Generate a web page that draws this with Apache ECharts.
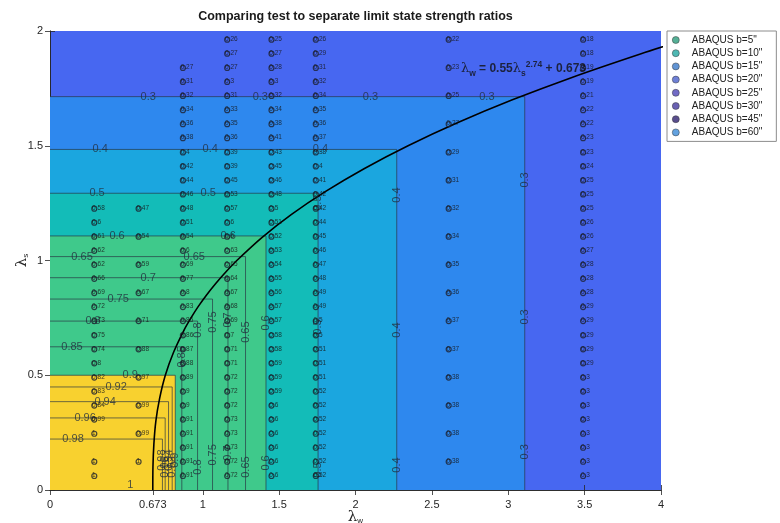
<!DOCTYPE html>
<html>
<head>
<meta charset="utf-8">
<script src="https://cdn.jsdelivr.net/npm/echarts@6/dist/echarts.min.js"></script>
<style>
html, body { margin: 0; padding: 0; background: #fff; }
#chart { width: 780px; height: 523px; }
</style>
</head>
<body>
<div id="chart"></div>
<script>
// ---- test points: one column per plate width b ----
const seriesNames = ['ABAQUS b=5"', 'ABAQUS b=10"', 'ABAQUS b=15"', 'ABAQUS b=20"',
                     'ABAQUS b=25"', 'ABAQUS b=30"', 'ABAQUS b=45"', 'ABAQUS b=60"'];
const seriesColors = ['#2a9c7c', '#22a6a0', '#3a79c9', '#4a60cc', '#4f46b8', '#45399f', '#2f2271', '#3b8bd8'];
const lambdaW = [0.29, 0.58, 0.87, 1.16, 1.45, 1.74, 2.61, 3.49];

// lambda_s rows, top to bottom
const lambdaS = [1.962, 1.901, 1.839, 1.778, 1.717, 1.655, 1.594, 1.533, 1.471, 1.410, 1.349, 1.288,
                 1.226, 1.165, 1.104, 1.042, 0.981, 0.920, 0.858, 0.797, 0.736, 0.674, 0.613, 0.552,
                 0.490, 0.429, 0.368, 0.307, 0.245, 0.184, 0.123, 0.061];

// strength ratios at each row (null = no specimen)
const ratioB5  = [null, null, null, null, null, null, null, null, null, null, null, null,
                  0.58, 0.6, 0.61, 0.62, 0.62, 0.66, 0.69, 0.72, 0.73, 0.75, 0.74, 0.8,
                  0.82, 0.83, 0.84, 0.99, 1, null, 1, 1];
const ratioB10 = [null, null, null, null, null, null, null, null, null, null, null, null,
                  0.47, null, 0.54, null, 0.59, null, 0.67, null, 0.71, null, 0.88, null,
                  0.97, null, 0.99, null, 0.99, null, 1, null];
const ratioB15 = [null, null, 0.27, 0.31, 0.32, 0.34, 0.36, 0.38, 0.4, 0.42, 0.44, 0.46,
                  0.48, 0.51, 0.54, 0.6, 0.69, 0.77, 0.8, 0.83, 0.85, 0.86, 0.87, 0.88,
                  0.89, 0.9, 0.9, 0.91, 0.91, 0.91, 0.91, 0.91];
const ratioB20 = [0.26, 0.27, 0.27, 0.3, 0.31, 0.33, 0.35, 0.36, 0.39, 0.39, 0.45, 0.53,
                  0.57, 0.6, 0.6, 0.63, 0.65, 0.64, 0.67, 0.68, 0.69, 0.7, 0.71, 0.71,
                  0.72, 0.72, 0.72, 0.73, 0.73, 0.73, 0.72, 0.72];
const ratioB25 = [0.25, 0.27, 0.28, 0.3, 0.32, 0.34, 0.38, 0.41, 0.43, 0.45, 0.46, 0.48,
                  0.5, 0.51, 0.52, 0.53, 0.54, 0.55, 0.56, 0.57, 0.57, 0.58, 0.58, 0.59,
                  0.59, 0.59, 0.6, 0.6, 0.6, 0.6, 0.6, 0.6];
const ratioB30 = [0.26, 0.29, 0.31, 0.32, 0.34, 0.35, 0.36, 0.37, 0.38, 0.4, 0.41, 0.42,
                  0.42, 0.44, 0.45, 0.46, 0.47, 0.48, 0.49, 0.49, 0.5, 0.5, 0.51, 0.51,
                  0.51, 0.52, 0.52, 0.52, 0.52, 0.52, 0.52, 0.52];
const ratioB45 = [0.22, null, 0.23, null, 0.25, null, 0.27, null, 0.29, null, 0.31, null,
                  0.32, null, 0.34, null, 0.35, null, 0.36, null, 0.37, null, 0.37, null,
                  0.38, null, 0.38, null, 0.38, null, 0.38, null];
const ratioB60 = [0.18, 0.18, 0.19, 0.19, 0.21, 0.22, 0.22, 0.23, 0.23, 0.24, 0.25, 0.25,
                  0.25, 0.26, 0.26, 0.27, 0.28, 0.28, 0.28, 0.29, 0.29, 0.29, 0.29, 0.29,
                  0.3, 0.3, 0.3, 0.3, 0.3, 0.3, 0.3, 0.3];
const ratios = [ratioB5, ratioB10, ratioB15, ratioB20, ratioB25, ratioB30, ratioB45, ratioB60];

// ---- separate limit state contours: each level is an L from (0,s) to (w,s) to (w,0) ----
const contourLevels = [0.3, 0.4, 0.5, 0.6, 0.65, 0.7, 0.75, 0.8, 0.85, 0.9, 0.92, 0.94, 0.96, 0.98];
const contourEdgeW  = [3.108, 2.27, 1.755, 1.414, 1.28, 1.165, 1.064, 0.966, 0.863, 0.82, 0.80, 0.776, 0.754, 0.736];
const contourEdgeS  = [1.714, 1.484, 1.293, 1.107, 1.017, 0.925, 0.832, 0.736, 0.624, 0.5, 0.449, 0.385, 0.314, 0.222];

// filled colour bands (below 0.3, 0.3-0.4, 0.4-0.5, 0.5-0.6, 0.6-0.9, above 0.9)
const bandBreaks = [0.3, 0.4, 0.5, 0.6, 0.9];
const bandColors = ['#4767f1', '#2e88ee', '#1ba6df', '#13bcb8', '#3fc98b', '#f8d12f'];

// contour label placements: [level, lambda_w, lambda_s, vertical]
const contourLabelSpots = [
  [0.3, 0.643, 1.714, 0], [0.3, 1.377, 1.714, 0], [0.3, 2.098, 1.714, 0], [0.3, 2.86, 1.714, 0],
  [0.4, 0.328, 1.484, 0], [0.4, 1.049, 1.484, 0], [0.4, 1.770, 1.484, 0],
  [0.5, 0.308, 1.293, 0], [0.5, 1.036, 1.293, 0],
  [0.6, 0.439, 1.107, 0], [0.6, 1.167, 1.107, 0],
  [0.65, 0.210, 1.017, 0], [0.65, 0.944, 1.017, 0],
  [0.7, 0.643, 0.925, 0], [0.75, 0.446, 0.832, 0], [0.8, 0.282, 0.736, 0],
  [0.85, 0.144, 0.624, 0], [0.9, 0.525, 0.5, 0], [0.92, 0.433, 0.449, 0],
  [0.94, 0.361, 0.385, 0], [0.96, 0.23, 0.314, 0], [0.98, 0.151, 0.222, 0], [1, 0.525, 0.02, 0],
  [0.3, 3.108, 1.351, 1], [0.3, 3.108, 0.754, 1], [0.3, 3.108, 0.166, 1],
  [0.4, 2.27, 1.285, 1], [0.4, 2.27, 0.697, 1], [0.4, 2.27, 0.109, 1],
  [0.5, 1.755, 1.25, 1], [0.5, 1.755, 0.710, 1], [0.5, 1.755, 0.087, 1],
  [0.6, 1.414, 0.728, 1], [0.6, 1.414, 0.118, 1],
  [0.65, 1.28, 0.688, 1], [0.65, 1.28, 0.100, 1],
  [0.7, 1.165, 0.741, 1], [0.7, 1.165, 0.161, 1],
  [0.75, 1.064, 0.732, 1], [0.75, 1.064, 0.153, 1],
  [0.8, 0.966, 0.697, 1], [0.8, 0.966, 0.100, 1],
  [0.85, 0.863, 0.58, 1],
  [0.9, 0.82, 0.13, 1], [0.92, 0.80, 0.10, 1], [0.94, 0.776, 0.13, 1], [0.96, 0.754, 0.10, 1], [0.98, 0.736, 0.13, 1]
];

// fitted interaction curve lambda_w = 0.55 lambda_s^2.74 + 0.673
const curveS = [0, 0.1, 0.2, 0.3, 0.4, 0.5, 0.6, 0.7, 0.75, 0.8, 0.85, 0.9, 0.95, 1.0,
                1.1, 1.2, 1.3, 1.4, 1.5, 1.6, 1.7, 1.8, 1.9, 1.95];
const curveW = [0.673, 0.674, 0.680, 0.693, 0.718, 0.755, 0.809, 0.880, 0.923, 0.971, 1.025, 1.085, 1.151, 1.223,
                1.387, 1.579, 1.802, 2.056, 2.344, 2.667, 3.027, 3.426, 3.865, 4.101];
const equationAnchor = [2.69, 1.834];

// axis ticks
const xTicks = [0, 0.673, 1, 1.5, 2, 2.5, 3, 3.5, 4];

const FONT = '"Liberation Sans", Arial, Helvetica, sans-serif';

function bandColor(level) {
  let i = 0;
  while (i < bandBreaks.length && level >= bandBreaks[i] - 1e-9) i++;
  return bandColors[i];
}

const chart = echarts.init(document.getElementById('chart'), null, { renderer: 'canvas' });

// markers are open rings; the value text starts on the ring
const scatterSeries = seriesNames.map((name, si) => ({
  type: 'scatter',
  name: name,
  z: 6,
  symbol: 'circle',
  symbolSize: 5,
  itemStyle: { color: 'rgba(0,0,0,0)', borderColor: '#1d2030', borderWidth: 1.2 },
  data: ratios[si].map((v, i) => (v == null ? null : [lambdaW[si], lambdaS[i], v])).filter(d => d),
  label: {
    show: true,
    formatter: p => String(p.value[2]),
    position: [0.9, 2.5],
    align: 'left',
    verticalAlign: 'middle',
    fontSize: 6.5,
    fontFamily: FONT,
    color: '#141414'
  },
  emphasis: { disabled: true },
  silent: true
}));

const option = {
  animation: false,
  backgroundColor: '#ffffff',
  graphic: [{
    type: 'text',
    x: 355.5,
    y: 17,
    style: {
      text: 'Comparing test to separate limit state strength ratios',
      font: 'bold 12.5px ' + FONT,
      fill: '#1a1a1a',
      align: 'center',
      verticalAlign: 'middle'
    }
  }],
  grid: {
    left: 50, right: 119, top: 31, bottom: 33,
    containLabel: false,
    outerBoundsMode: 'none',
    show: true,
    backgroundColor: bandColors[0],
    borderWidth: 0
  },
  legend: {
    orient: 'vertical',
    left: 667, top: 31,
    data: seriesNames.map((n, i) => ({
      name: n,
      itemStyle: { color: seriesColors[i], borderColor: '#333', borderWidth: 0.6 }
    })),
    icon: 'circle',
    itemWidth: 22, itemHeight: 7,
    itemGap: 1.2,
    padding: [3, 14, 3, 5],
    backgroundColor: '#ffffff',
    borderColor: '#8c8c8c',
    borderWidth: 1,
    borderRadius: 0,
    textStyle: { fontSize: 10, fontFamily: FONT, color: '#222', lineHeight: 12 },
    selectedMode: false
  },
  xAxis: [{
    type: 'value', min: 0, max: 4, position: 'bottom',
    name: '{a|λ}{b|w}', nameLocation: 'middle', nameGap: 20, nameMoveOverlap: false,
    nameTextStyle: { rich: { a: { fontSize: 15, fontFamily: 'DejaVu Serif', color: '#262626' },
                             b: { fontSize: 8, fontFamily: FONT, color: '#262626', verticalAlign: 'bottom', padding: [6, 0, 0, 0] } } },
    axisLine: { show: true, lineStyle: { color: '#262626', width: 0.8 } },
    axisTick: { show: true, inside: true, length: 5, customValues: xTicks, lineStyle: { color: '#262626', width: 0.8 } },
    axisLabel: { customValues: xTicks, fontSize: 11, fontFamily: FONT, color: '#262626', margin: 9,
                 formatter: v => String(v) },
    splitLine: { show: false }
  }, {
    type: 'value', min: 0, max: 4, position: 'top',
    axisLine: { show: true, lineStyle: { color: '#262626', width: 0.8 } },
    axisTick: { show: true, inside: true, length: 5, customValues: xTicks, lineStyle: { color: '#262626', width: 0.8 } },
    axisLabel: { show: false },
    splitLine: { show: false }
  }],
  yAxis: [{
    type: 'value', min: 0, max: 2, interval: 0.5, position: 'left',
    name: '{a|λ}{b|s}', nameLocation: 'middle', nameGap: 20, nameMoveOverlap: false,
    nameTextStyle: { rich: { a: { fontSize: 15, fontFamily: 'DejaVu Serif', color: '#262626' },
                             b: { fontSize: 8, fontFamily: FONT, color: '#262626', verticalAlign: 'bottom', padding: [6, 0, 0, 0] } } },
    axisLine: { show: true, lineStyle: { color: '#262626', width: 0.8 } },
    axisTick: { show: true, inside: true, length: 5, lineStyle: { color: '#262626', width: 0.8 } },
    axisLabel: { fontSize: 11, fontFamily: FONT, color: '#262626', margin: 7 },
    splitLine: { show: false }
  }, {
    type: 'value', min: 0, max: 2, interval: 0.5, position: 'right',
    axisLine: { show: true, lineStyle: { color: '#262626', width: 0.8 } },
    axisTick: { show: true, inside: true, length: 5, lineStyle: { color: '#262626', width: 0.8 } },
    axisLabel: { show: false },
    splitLine: { show: false }
  }],
  series: [
    // filled bands: nested rectangles from the origin to each contour corner
    {
      type: 'custom', z: 1, silent: true, clip: true,
      data: contourLevels.map((l, i) => [contourEdgeW[i], contourEdgeS[i], l]),
      encode: { x: 0, y: 1 },
      renderItem: (params, api) => {
        const o = api.coord([0, 0]);
        const c = api.coord([api.value(0), api.value(1)]);
        return {
          type: 'rect',
          shape: { x: o[0], y: c[1], width: c[0] - o[0], height: o[1] - c[1] },
          style: { fill: bandColor(api.value(2)) }
        };
      }
    },
    // contour lines
    {
      type: 'custom', z: 2, silent: true, clip: true,
      data: contourLevels.map((l, i) => [contourEdgeW[i], contourEdgeS[i], l]),
      encode: { x: 0, y: 1 },
      renderItem: (params, api) => {
        const w = api.value(0), s = api.value(1);
        return {
          type: 'polyline',
          shape: { points: [api.coord([0, s]), api.coord([w, s]), api.coord([w, 0])] },
          style: { stroke: 'rgba(40,52,66,0.85)', lineWidth: 0.8, fill: null }
        };
      }
    },
    // contour labels (vertical ones read bottom to top)
    {
      type: 'custom', z: 4, silent: true, clip: false,
      data: contourLabelSpots,
      encode: { x: 1, y: 2 },
      renderItem: (params, api) => {
        const p = api.coord([api.value(1), api.value(2)]);
        return {
          type: 'text',
          x: p[0], y: p[1],
          rotation: api.value(3) ? Math.PI / 2 : 0,
          style: {
            text: String(api.value(0)),
            font: '11px ' + FONT,
            fill: 'rgba(35,48,62,0.8)',
            align: 'center',
            verticalAlign: 'middle'
          }
        };
      }
    },
    // fitted curve
    {
      type: 'line', z: 5, silent: true, clip: true,
      data: curveS.map((s, i) => [curveW[i], s]),
      smooth: 0.3, showSymbol: false, symbol: 'none',
      lineStyle: { color: '#000', width: 1.6 }
    },
    // curve equation
    {
      type: 'scatter', z: 7, silent: true,
      data: [equationAnchor], symbolSize: 0,
      label: {
        show: true, position: 'right', distance: 0,
        formatter: '{m|λ}{sub|w}{b| = 0.55}{m|λ}{sub|s}{sup|2.74}{b| + 0.673}',
        rich: {
          m: { fontSize: 13, fontFamily: 'DejaVu Serif', color: '#111', lineHeight: 18, verticalAlign: 'middle' },
          b: { fontSize: 12, fontWeight: 'bold', fontFamily: FONT, color: '#111', lineHeight: 18, verticalAlign: 'middle' },
          sub: { fontSize: 8.5, fontWeight: 'bold', fontFamily: FONT, color: '#111', verticalAlign: 'bottom', lineHeight: 10 },
          sup: { fontSize: 8.5, fontWeight: 'bold', fontFamily: FONT, color: '#111', verticalAlign: 'top', lineHeight: 10 }
        }
      }
    },
    ...scatterSeries
  ]
};

chart.setOption(option);
</script>
</body>
</html>
